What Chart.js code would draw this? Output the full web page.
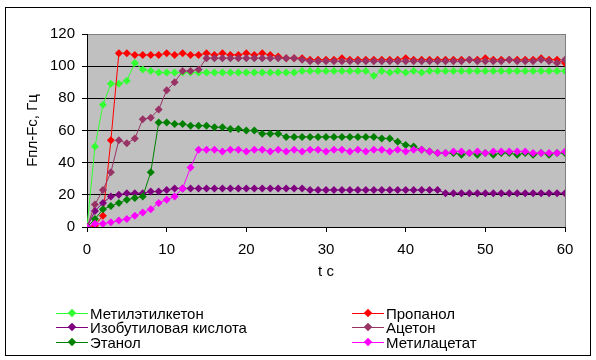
<!DOCTYPE html>
<html>
<head>
<meta charset="utf-8">
<script src="https://cdn.jsdelivr.net/npm/chart.js@4/dist/chart.umd.min.js"></script>
<style>
    body { margin: 0; background: #fff; }
    #wrap { position: relative; width: 596px; height: 360px; }
    #frame { position: absolute; left: 5px; top: 7px; width: 584px; height: 347px; border: 1px solid #000; pointer-events: none; }
    .item { position: absolute; height: 16px; display: flex; align-items: center; font: 15px "Liberation Sans", Arial, sans-serif; color: #000; white-space: nowrap; }
    .sample { position: relative; width: 32px; height: 1px; margin-right: 2px; }
    .sample i { position: absolute; left: 13px; top: -3px; width: 6px; height: 6px; transform: rotate(45deg); }
</style>
</head>
<body>
<div id="wrap">
    <canvas id="chart" width="596" height="360"></canvas>
    <div id="frame"></div>
    <div id="legend"></div>
</div>
<script>
const times = [0,1,2,3,4,5,6,7,8,9,10,11,12,13,14,15,16,17,18,19,20,21,22,23,24,25,26,27,28,29,30,
    31,32,33,34,35,36,37,38,39,40,41,42,43,44,45,46,47,48,49,50,51,52,53,54,55,56,57,58,59,60];

const seriesNames = ['Метилэтилкетон', 'Пропанол', 'Изобутиловая кислота', 'Ацетон', 'Этанол', 'Метилацетат'];
const seriesColors = ['#33ff33', '#ff0000', '#800080', '#993366', '#008000', '#ff00ff'];

const methylEthylKetone = [0,50,76,89,89,91,102,98,97,96,96,96,96,96,96,96,96,96,96,96,96,96,96,96,96,96,96,97,97,97,97,
    97,97,97,97,97,94,97,96,97,96,97,96,97,97,97,97,97,97,97,97,97,97,97,97,97,97,97,97,97,97];
const propanol = [0,1,7,54,108,108,107,107,107,107,108,107,108,107,107,108,107,108,107,107,108,107,108,107,106,105,105,105,104,104,104,
    104,105,104,104,104,104,104,104,104,105,104,104,104,104,104,104,104,104,104,105,104,104,104,104,104,104,105,104,104,102];
const isobutyricAcid = [0,10,15,19,20,21,21,21,22,22,23,24,24,24,24,24,24,24,24,24,24,24,24,24,24,24,24,24,23,23,23,
    23,23,23,23,23,23,23,23,23,23,23,23,23,23,21,21,21,21,21,21,21,21,21,21,21,21,21,21,21,21];
const acetone = [0,14,23,34,54,52,55,67,68,73,85,90,97,97,98,105,105,105,105,105,105,105,105,105,105,105,105,104,103,103,103,
    103,103,103,103,103,103,103,103,103,103,103,103,103,103,103,103,103,104,103,103,103,103,104,103,103,103,104,103,102,104];
const ethanol = [0,5,11,13,15,17,18,19,34,65,65,64,64,63,63,63,62,62,61,61,60,60,58,58,58,56,56,56,56,56,56,
    56,56,56,56,56,56,55,55,53,51,50,48,47,46,46,46,45,46,45,46,45,46,46,45,46,45,46,45,46,46];
const methylAcetate = [0,2,2,3,4,5,7,9,11,15,17,19,24,37,48,48,48,47,48,48,47,48,48,47,48,47,48,47,48,48,47,
    48,48,47,48,47,48,48,47,48,47,48,48,47,46,46,47,47,46,47,46,47,47,47,47,47,46,46,46,46,47];

const seriesValues = [methylEthylKetone, propanol, isobutyricAcid, acetone, ethanol, methylAcetate];

const xTicks = [0, 10, 20, 30, 40, 50, 60];
const yTicks = [0, 20, 40, 60, 80, 100, 120];

const fontFamily = '"Liberation Sans", Arial, sans-serif';

const plotBackground = {
    id: 'plotBackground',
    beforeDraw(chart) {
        const { ctx, chartArea: a } = chart;
        ctx.save();
        ctx.fillStyle = '#ffffff';
        ctx.fillRect(0, 0, chart.width, chart.height);
        ctx.fillStyle = '#c0c0c0';
        ctx.fillRect(a.left, a.top, a.right - a.left, a.bottom - a.top);
        ctx.restore();
    },
    beforeDatasetsDraw(chart) {
        const { ctx, chartArea: a } = chart;
        ctx.save();
        ctx.strokeStyle = '#808080';
        ctx.lineWidth = 1;
        ctx.beginPath();
        ctx.moveTo(a.right + 0.5, a.top);
        ctx.lineTo(a.right + 0.5, a.bottom);
        ctx.stroke();
        ctx.restore();
    }
};

const datasets = seriesNames.map((name, i) => ({
    label: name,
    data: times.map((t, j) => ({ x: t, y: seriesValues[i][j] })),
    borderColor: seriesColors[i],
    backgroundColor: seriesColors[i],
    pointBackgroundColor: seriesColors[i],
    pointBorderColor: seriesColors[i],
    borderWidth: 1,
    pointStyle: 'rectRot',
    pointRadius: 4,
    pointBorderWidth: 0,
    tension: 0,
    order: seriesNames.length - i
}));

new Chart(document.getElementById('chart').getContext('2d'), {
    type: 'line',
    data: { datasets },
    options: {
        responsive: false,
        animation: false,
        layout: { padding: { left: 20, right: 31, top: 34, bottom: 75 } },
        plugins: {
            legend: { display: false },
            tooltip: { enabled: false }
        },
        scales: {
            x: {
                type: 'linear',
                min: 0,
                max: 60,
                afterBuildTicks: scale => { scale.ticks = xTicks.map(v => ({ value: v })); },
                afterFit: scale => { scale.height = 58; },
                ticks: { color: '#000', font: { family: fontFamily, size: 15 }, padding: 9, maxRotation: 0 },
                grid: { drawOnChartArea: false, drawTicks: true, tickLength: 5, tickColor: '#000' },
                border: { display: true, color: '#000', width: 1 },
                title: { display: true, text: 't c', color: '#000', font: { family: fontFamily, size: 15 } }
            },
            y: {
                min: 0,
                max: 120,
                afterBuildTicks: scale => { scale.ticks = yTicks.map(v => ({ value: v })); },
                afterFit: scale => { scale.width = 67; },
                ticks: { color: '#000', font: { family: fontFamily, size: 15 }, padding: 7 },
                grid: {
                    color: c => (c.tick && c.tick.value === 120 ? '#808080' : '#000'),
                    lineWidth: 1,
                    tickLength: 5,
                    tickColor: '#000'
                },
                border: { display: true, color: '#000', width: 1 },
                title: { display: true, text: 'Fпл-Fc, Гц', color: '#000', font: { family: fontFamily, size: 15 } }
            }
        }
    },
    plugins: [plotBackground]
});

// legend in two columns, filled row by row like the original
const legendBox = document.getElementById('legend');
seriesNames.forEach((name, i) => {
    const col = i % 2, row = Math.floor(i / 2);
    const item = document.createElement('div');
    item.className = 'item';
    item.style.left = (col === 0 ? 56 : 352) + 'px';
    item.style.top = (305 + row * 14.5) + 'px';
    item.innerHTML = `<span class="sample" style="background:${seriesColors[i]}"><i style="background:${seriesColors[i]}"></i></span><span>${name}</span>`;
    legendBox.appendChild(item);
});
</script>
</body>
</html>
